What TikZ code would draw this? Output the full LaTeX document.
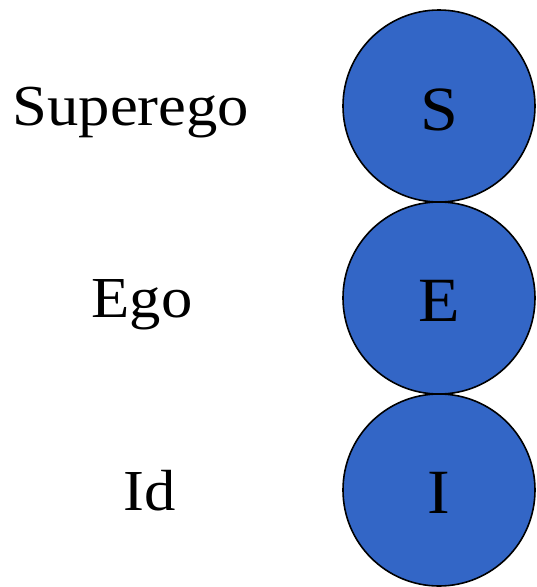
\documentclass[tikz,border=0pt]{standalone}
\usepackage{fontspec}
\setmainfont{Liberation Serif}
\definecolor{ballblue}{RGB}{51,102,198}
\newcommand{\widetxt}[1]{\scalebox{1.08}[1]{#1}}
\begin{document}
\begin{tikzpicture}[x=1pt,y=-1pt,
  ball/.style={circle,draw=black,line width=1.6pt,fill=ballblue,minimum size=192pt,inner sep=0pt},
  inl/.style={anchor=base,inner sep=0pt,font=\fontsize{63}{63}\selectfont},
  lab/.style={anchor=base,inner sep=0pt,font=\fontsize{58}{58}\selectfont}]
\useasboundingbox (0,0) rectangle (537,587);
\node[ball] (S) at (439,106) {};
\node[ball] (E) at (439,298) {};
\node[ball] (I) at (439,490) {};
\node[inl] (s) at (439,130) {\widetxt{S}};
\node[inl] (e) at (439,321) {\widetxt{E}};
\node[inl] (i) at (439,513) {\widetxt{I}};
\node[lab] (sup) at (131,125) {\widetxt{Superego}};
\node[lab] (ego) at (142,317) {\widetxt{Ego}};
\node[lab] (id) at (150,510) {\widetxt{Id}};
\end{tikzpicture}
\end{document}
